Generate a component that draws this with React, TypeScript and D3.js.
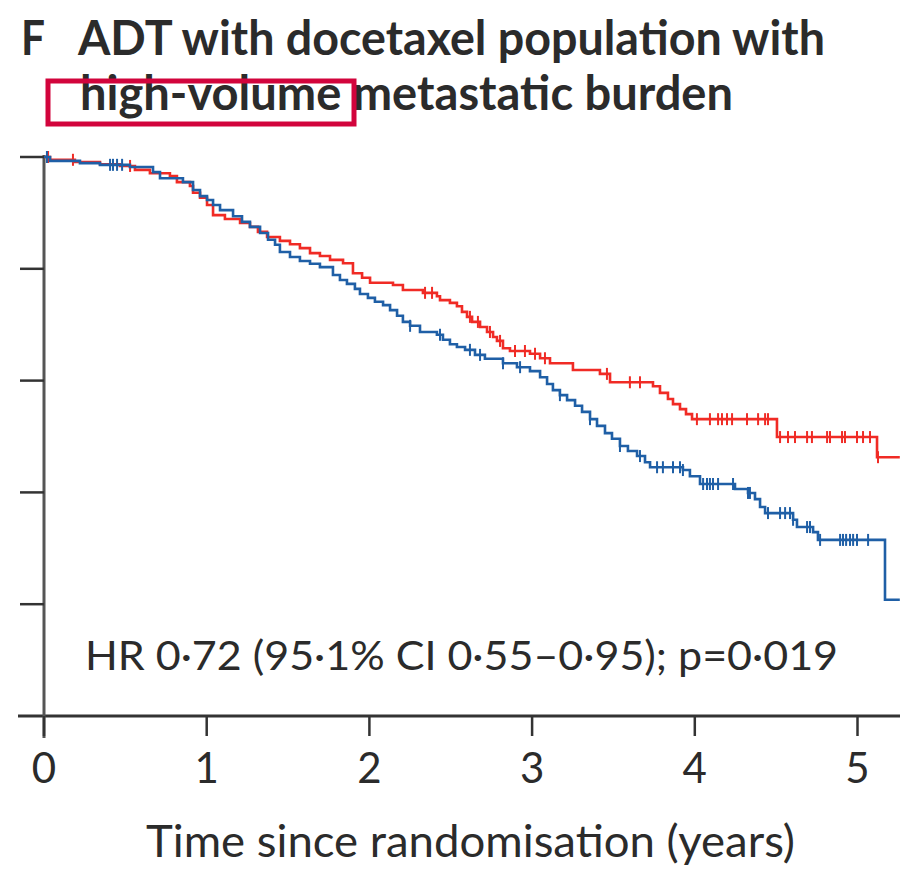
import React from "react";
import * as d3 from "d3";

const xTicks = [0, 1, 2, 3, 4, 5];
const yTicks = [0.2, 0.4, 0.6, 0.8, 1.0];

const redTimes = [0, 0.037, 0.19, 0.344, 0.467, 0.559, 0.651, 0.774, 0.817, 0.897, 0.916, 0.959, 1.002, 1.039, 1.112, 1.205, 1.266, 1.315, 1.371, 1.45, 1.512, 1.573, 1.635, 1.696, 1.758, 1.838, 1.899, 1.955, 2.004, 2.145, 2.206, 2.329, 2.415, 2.434, 2.495, 2.538, 2.569, 2.6, 2.631, 2.68, 2.723, 2.76, 2.784, 2.821, 2.864, 2.987, 3.049, 3.11, 3.251, 3.417, 3.479, 3.743, 3.786, 3.835, 3.866, 3.909, 3.946, 3.983, 4.505, 5.12];
const redSurv = [1, 0.995, 0.991, 0.987, 0.984, 0.977, 0.971, 0.966, 0.955, 0.948, 0.936, 0.927, 0.914, 0.896, 0.889, 0.882, 0.875, 0.866, 0.857, 0.85, 0.844, 0.837, 0.828, 0.823, 0.816, 0.81, 0.792, 0.784, 0.775, 0.771, 0.762, 0.757, 0.751, 0.744, 0.739, 0.733, 0.723, 0.714, 0.705, 0.696, 0.687, 0.678, 0.671, 0.658, 0.653, 0.648, 0.64, 0.631, 0.619, 0.612, 0.597, 0.59, 0.578, 0.567, 0.558, 0.549, 0.54, 0.531, 0.499, 0.463];
const redCensor = [0.025, 0.178, 0.529, 2.342, 2.385, 2.618, 2.667, 2.741, 2.803, 2.895, 2.956, 3.018, 3.079, 3.46, 3.601, 3.663, 4.013, 4.093, 4.143, 4.167, 4.198, 4.229, 4.321, 4.389, 4.432, 4.45, 4.524, 4.573, 4.616, 4.69, 4.72, 4.813, 4.831, 4.905, 4.923, 4.997, 5.034, 5.077, 5.126];

const blueTimes = [0, 0.037, 0.221, 0.344, 0.528, 0.67, 0.713, 0.854, 0.916, 0.959, 1.002, 1.039, 1.082, 1.162, 1.217, 1.266, 1.328, 1.377, 1.42, 1.45, 1.512, 1.573, 1.635, 1.696, 1.776, 1.819, 1.862, 1.911, 1.942, 1.991, 2.034, 2.084, 2.127, 2.17, 2.206, 2.25, 2.311, 2.415, 2.452, 2.495, 2.538, 2.588, 2.649, 2.71, 2.821, 2.907, 2.987, 3.049, 3.092, 3.128, 3.171, 3.215, 3.264, 3.307, 3.356, 3.399, 3.448, 3.491, 3.54, 3.589, 3.645, 3.694, 3.725, 3.927, 3.97, 4.032, 4.247, 4.327, 4.37, 4.401, 4.432, 4.604, 4.628, 4.727, 4.757, 5.169];
const blueSurv = [1, 0.993, 0.989, 0.986, 0.982, 0.973, 0.962, 0.955, 0.941, 0.93, 0.923, 0.914, 0.905, 0.894, 0.884, 0.875, 0.864, 0.852, 0.843, 0.83, 0.821, 0.814, 0.809, 0.803, 0.789, 0.78, 0.773, 0.764, 0.755, 0.748, 0.741, 0.735, 0.726, 0.716, 0.705, 0.698, 0.687, 0.682, 0.673, 0.665, 0.66, 0.655, 0.646, 0.639, 0.631, 0.624, 0.617, 0.606, 0.594, 0.583, 0.574, 0.565, 0.555, 0.544, 0.531, 0.519, 0.506, 0.496, 0.483, 0.474, 0.465, 0.454, 0.445, 0.44, 0.429, 0.415, 0.406, 0.399, 0.388, 0.374, 0.363, 0.351, 0.338, 0.329, 0.315, 0.208];
const blueCensor = [0.018, 0.406, 0.424, 0.449, 0.48, 2.25, 2.434, 2.618, 2.68, 2.821, 2.926, 3.171, 3.356, 3.54, 3.663, 3.768, 3.804, 3.866, 3.909, 3.927, 4.051, 4.075, 4.093, 4.112, 4.143, 4.235, 4.327, 4.339, 4.45, 4.524, 4.555, 4.585, 4.604, 4.69, 4.708, 4.77, 4.893, 4.911, 4.93, 4.954, 4.973, 4.997, 5.065];

const maxTime = 5.26;
const RED = "#f02b25";
const BLUE = "#1f5fa6";
const TEXT = "#2b2b2b";
const FONT = "Lato, 'Open Sans', sans-serif";

function survAt(times: number[], surv: number[], t: number) {
  const i = d3.bisectRight(times, t) - 1;
  return surv[Math.max(0, i)];
}

export default function App() {
  const x = d3.scaleLinear().domain([0, 5]).range([44, 857.5]);
  const y = d3.scaleLinear().domain([0, 1]).range([716, 157]);

  const stepLine = d3
    .line<[number, number]>()
    .x((d) => x(d[0]))
    .y((d) => y(d[1]))
    .curve(d3.curveStepAfter);

  const series = [
    { times: redTimes, surv: redSurv, censor: redCensor, color: RED },
    { times: blueTimes, surv: blueSurv, censor: blueCensor, color: BLUE },
  ];

  return (
    <svg
      width={900}
      height={870}
      style={{ position: "absolute", left: 0, top: 0, background: "#fff" }}
    >
      {/* Title */}
      <text x={21} y={55} fontFamily={FONT} fontWeight={700} fontSize={48} fill={TEXT}
        textLength={24} lengthAdjust="spacingAndGlyphs">
        F
      </text>
      <text
        x={78}
        y={55}
        fontFamily={FONT}
        fontWeight={700}
        fontSize={47}
        fill={TEXT}
        textLength={747}
        lengthAdjust="spacingAndGlyphs"
      >
        ADT with docetaxel population with
      </text>
      <text
        x={80}
        y={110}
        fontFamily={FONT}
        fontWeight={700}
        fontSize={47}
        fill={TEXT}
        textLength={653}
        lengthAdjust="spacingAndGlyphs"
      >
        high-volume metastatic burden
      </text>
      <rect x={48} y={81} width={306} height={43} fill="none" stroke="#d2043c" strokeWidth={5} />

      {/* Axes */}
      <line x1={18} x2={900} y1={y(0)} y2={y(0)} stroke="#333" strokeWidth={3} />
      <line x1={x(0)} x2={x(0)} y1={y(1) - 2} y2={y(0) + 22} stroke="#555" strokeWidth={3} />
      {yTicks.map((t) => (
        <line key={"yt" + t} x1={20} x2={x(0)} y1={y(t)} y2={y(t)} stroke="#333" strokeWidth={2.5} />
      ))}
      {xTicks.map((t) => (
        <g key={"xt" + t}>
          <line x1={x(t)} x2={x(t)} y1={y(0)} y2={y(0) + 20} stroke="#333" strokeWidth={2.5} />
          <text
            x={x(t)}
            y={783}
            textAnchor="middle"
            fontFamily={FONT}
            fontSize={42}
            fill={TEXT}
          >
            {t}
          </text>
        </g>
      ))}
      <text
        x={146}
        y={857}
        fontFamily={FONT}
        fontSize={44}
        fill={TEXT}
        textLength={649}
        lengthAdjust="spacingAndGlyphs"
      >
        Time since randomisation (years)
      </text>

      {/* Curves */}
      {series.map((s, si) => {
        const pts: [number, number][] = s.times.map((t, i) => [t, s.surv[i]] as [number, number]);
        pts.push([maxTime, s.surv[s.surv.length - 1]]);
        return (
          <g key={"s" + si}>
            <path d={stepLine(pts) || ""} fill="none" stroke={s.color} strokeWidth={2.6} />
            {s.censor.map((c, ci) => {
              const v = survAt(s.times, s.surv, c);
              return (
                <line
                  key={ci}
                  x1={x(c)}
                  x2={x(c)}
                  y1={y(v) - 6}
                  y2={y(v) + 6}
                  stroke={s.color}
                  strokeWidth={2}
                />
              );
            })}
          </g>
        );
      })}

      {/* Annotation */}
      <text
        x={85}
        y={670}
        fontFamily={FONT}
        fontSize={40}
        fill={TEXT}
        textLength={753}
        lengthAdjust="spacingAndGlyphs"
      >
        HR 0·72 (95·1% CI 0·55–0·95); p=0·019
      </text>
    </svg>
  );
}
